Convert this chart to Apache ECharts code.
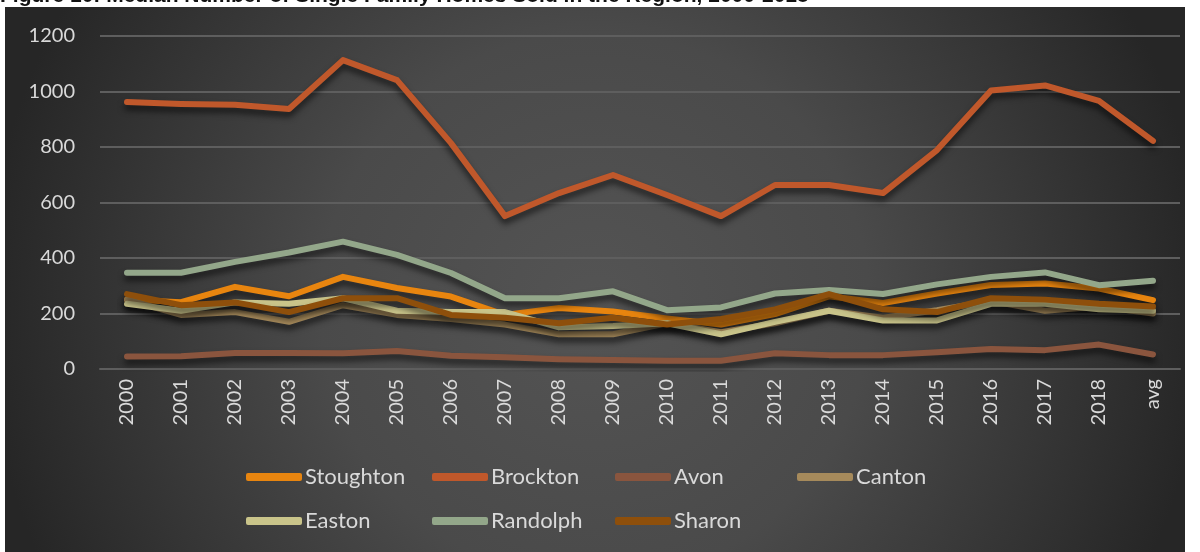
<!DOCTYPE html>
<html>
<head>
<meta charset="utf-8">
<style>
  html, body { margin: 0; padding: 0; background: #ffffff; }
  #chart { width: 1200px; height: 552px; }
</style>
<script src="https://cdn.jsdelivr.net/npm/echarts@6/dist/echarts.min.js"></script>
</head>
<body>
<div id="chart"></div>
<script>
// Median number of single-family homes sold, by town
const years = ['2000','2001','2002','2003','2004','2005','2006','2007','2008','2009',
               '2010','2011','2012','2013','2014','2015','2016','2017','2018','avg'];

const stoughton = [250, 241, 296, 262, 332, 292, 261, 195, 220, 207, 182, 160, 198, 262, 238, 272, 303, 308, 290, 248];
const brockton  = [962, 955, 952, 937, 1113, 1041, 814, 551, 634, 699, 627, 551, 663, 663, 634, 789, 1004, 1022, 966, 822];
const avon      = [45, 46, 58, 58, 57, 65, 48, 42, 35, 32, 30, 30, 57, 50, 50, 60, 72, 68, 88, 52];
const canton    = [250, 195, 205, 170, 230, 195, 180, 160, 125, 125, 165, 133, 165, 210, 185, 212, 245, 210, 225, 200];
const easton    = [235, 210, 240, 235, 255, 210, 205, 205, 150, 155, 165, 125, 170, 210, 175, 175, 235, 235, 215, 210];
const randolph  = [347, 347, 386, 420, 459, 411, 346, 255, 255, 280, 212, 222, 272, 285, 270, 305, 332, 348, 302, 318];
const sharon    = [270, 230, 240, 205, 255, 255, 195, 185, 165, 185, 160, 180, 215, 270, 215, 205, 255, 250, 235, 225];

const yTicks = { min: 0, max: 1200, step: 200 };

const towns = [
  { name: 'Stoughton', data: stoughton, color: '#E8850F' },
  { name: 'Brockton',  data: brockton,  color: '#C0582B' },
  { name: 'Avon',      data: avon,      color: '#8A553E' },
  { name: 'Canton',    data: canton,    color: '#A68A5B' },
  { name: 'Easton',    data: easton,    color: '#C9C48A' },
  { name: 'Randolph',  data: randolph,  color: '#93A78A' },
  { name: 'Sharon',    data: sharon,    color: '#8E4F0B' }
];

const FONT = 'Lato';
const TEXT = '#d9d9d9';

// legend laid out as a fixed 4-column grid, two rows
const legendCols = [246, 432, 615, 797];
const legendRows = [466, 510];
const legends = towns.map((t, i) => ({
  data: [t.name],
  left: legendCols[i % 4],
  top: legendRows[Math.floor(i / 4)],
  icon: 'roundRect',
  itemWidth: 56,
  itemHeight: 8,
  itemGap: 0,
  selectedMode: false,
  padding: 0,
  textStyle: { color: TEXT, fontFamily: FONT, fontSize: 22, padding: [0, 0, 0, -2] }
}));

const chart = echarts.init(document.getElementById('chart'), null, { renderer: 'canvas' });

chart.setOption({
  animation: false,
  backgroundColor: '#ffffff',
  graphic: [
    {
      type: 'text',
      z: -20,
      silent: true,
      left: 0,
      top: -14,
      style: {
        text: 'Figure 10: Median Number of Single Family Homes Sold in the Region, 2000-2018',
        fill: '#111111',
        font: 'bold 21px "Liberation Sans", Arial, sans-serif'
      }
    },
    {
      type: 'rect',
      z: -10,
      silent: true,
      shape: { x: 5, y: 7, width: 1180, height: 545 },
      style: {
        fill: {
          type: 'radial', x: 0.5, y: 0.55, r: 1.12,
          colorStops: [
            { offset: 0, color: '#545454' },
            { offset: 0.45, color: '#4a4a4a' },
            { offset: 1, color: '#262626' }
          ]
        }
      }
    }
  ],
  legend: legends,
  grid: { left: 100, right: 20, top: 36, bottom: 183 },
  xAxis: {
    type: 'category',
    data: years,
    boundaryGap: true,
    axisLine: { show: true, lineStyle: { color: '#5e5e5e', width: 2 } },
    axisTick: { show: false },
    axisLabel: {
      rotate: 90,
      color: TEXT,
      fontFamily: FONT,
      fontSize: 20,
      margin: 10,
      interval: 0
    }
  },
  yAxis: {
    type: 'value',
    min: yTicks.min,
    max: yTicks.max,
    interval: yTicks.step,
    axisLine: { show: false },
    axisTick: { show: false },
    splitLine: { lineStyle: { color: '#5e5e5e', width: 2 } },
    axisLabel: {
      color: TEXT, fontFamily: FONT, fontSize: 20, margin: 25,
      formatter: v => String(v)
    }
  },
  series: towns.map(t => ({
    name: t.name,
    type: 'line',
    data: t.data,
    symbol: 'none',
    color: t.color,
    lineStyle: {
      width: 6,
      color: t.color,
      cap: 'round',
      join: 'round',
      shadowColor: 'rgba(0,0,0,0.6)',
      shadowBlur: 6,
      shadowOffsetY: 5
    }
  }))
});
</script>
</body>
</html>
